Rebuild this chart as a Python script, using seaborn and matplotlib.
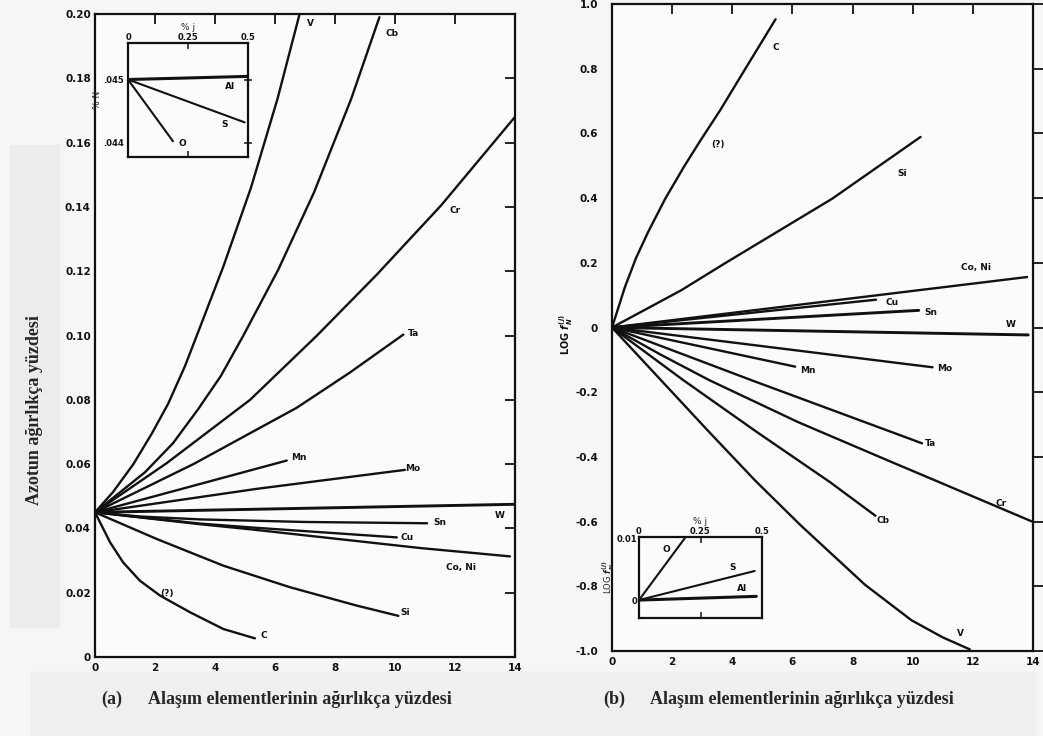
import matplotlib
matplotlib.use("Agg")
import matplotlib.pyplot as plt
import seaborn as sns
from matplotlib.patches import Rectangle

# ---------------- (a) nitrogen solubility: wt% N vs wt% alloying element ----------------
a_V_x = [0, 0.6, 1.28, 1.9, 2.44, 3.0, 3.39, 4.28, 5.2, 6.08, 6.82]
a_V_y = [0.045, 0.0513, 0.0600, 0.0696, 0.0788, 0.0905, 0.0999, 0.1215, 0.1460, 0.1735, 0.200]
a_Cb_x = [0, 1.67, 2.6, 3.44, 4.2, 4.94, 6.11, 7.3, 8.54, 9.48]
a_Cb_y = [0.045, 0.0575, 0.0665, 0.0771, 0.0875, 0.0999, 0.1205, 0.1445, 0.1736, 0.199]
a_Cr_x = [0, 2.39, 5.17, 7.39, 9.4, 11.54, 14.0]
a_Cr_y = [0.045, 0.0603, 0.0800, 0.0999, 0.1190, 0.1405, 0.168]
a_Ta_x = [0, 3.28, 6.72, 8.5, 10.28]
a_Ta_y = [0.045, 0.0600, 0.0775, 0.0885, 0.1003]
a_Mn_x = [0, 6.39]
a_Mn_y = [0.045, 0.0611]
a_Mo_x = [0, 5.39, 10.33]
a_Mo_y = [0.045, 0.0523, 0.0582]
a_W_x = [0, 14.0]
a_W_y = [0.045, 0.0475]
a_Sn_x = [0, 1.5, 3.5, 7.0, 11.07]
a_Sn_y = [0.045, 0.0437, 0.0428, 0.0420, 0.0416]
a_Cu_x = [0, 3.5, 5.2, 10.06]
a_Cu_y = [0.045, 0.0415, 0.0403, 0.0372]
a_CoNi_x = [0, 3.5, 5.2, 10.83, 13.83]
a_CoNi_y = [0.045, 0.0413, 0.0397, 0.0339, 0.0313]
a_Si_x = [0, 2.06, 4.28, 6.5, 8.72, 10.11]
a_Si_y = [0.045, 0.0367, 0.0284, 0.0217, 0.016, 0.0128]
a_C_x = [0, 0.28, 0.5, 0.94, 1.5, 2.17, 3.17, 4.28, 5.33]
a_C_y = [0.045, 0.0398, 0.0357, 0.0294, 0.0237, 0.0191, 0.0139, 0.0087, 0.0058]

# small-range inset of (a): O, S, Al
a_in_O_x, a_in_O_y = [0, 0.1875], [0.045, 0.04402]
a_in_S_x, a_in_S_y = [0, 0.486], [0.045, 0.04432]
a_in_Al_x, a_in_Al_y = [0, 0.5], [0.045, 0.04505]

# ---------------- (b) log f_N^(j) vs wt% alloying element ----------------
b_C_x = [0, 0.43, 0.8, 1.2, 1.77, 2.4, 2.94, 3.6, 4.37, 5.44]
b_C_y = [0, 0.125, 0.215, 0.295, 0.398, 0.498, 0.578, 0.672, 0.790, 0.953]
b_Si_x = [0, 2.3, 3.73, 7.32, 10.26]
b_Si_y = [0, 0.115, 0.197, 0.398, 0.589]
b_CoNi_x, b_CoNi_y = [0, 13.8], [0, 0.156]
b_Cu_x, b_Cu_y = [0, 8.78], [0, 0.086]
b_Sn_x, b_Sn_y = [0, 10.2], [0, 0.053]
b_W_x, b_W_y = [0, 13.84], [0, -0.023]
b_Mn_x, b_Mn_y = [0, 6.09], [0, -0.121]
b_Mo_x, b_Mo_y = [0, 10.66], [0, -0.123]
b_Ta_x = [0, 4.67, 10.31]
b_Ta_y = [0, -0.164, -0.358]
b_Cr_x = [0, 1.6, 3.24, 6.2, 9.15, 10.88, 14.0]
b_Cr_y = [0, -0.083, -0.163, -0.293, -0.410, -0.478, -0.601]
b_Cb_x = [0, 2.36, 4.8, 7.25, 8.76]
b_Cb_y = [0, -0.162, -0.322, -0.478, -0.582]
b_V_x = [0, 1.64, 3.2, 4.77, 6.28, 8.41, 9.96, 11.0, 11.9]
b_V_y = [0, -0.164, -0.320, -0.474, -0.612, -0.795, -0.905, -0.958, -0.995]

# inset of (b)
b_in_O_x, b_in_O_y = [0, 0.186], [0, 0.0100]
b_in_S_x, b_in_S_y = [0, 0.47], [0, 0.0047]
b_in_Al_x, b_in_Al_y = [0, 0.477], [0, 0.0006]

# curve labels: (text, x, y)
a_labels = [("V", 7.17, 0.197), ("Cb", 9.9, 0.194), ("Cr", 12.0, 0.139),
            ("Ta", 10.62, 0.1005), ("Mn", 6.8, 0.0621), ("Mo", 10.6, 0.0585),
            ("W", 13.5, 0.0440), ("Sn", 11.5, 0.0417), ("Cu", 10.4, 0.0372),
            ("Co, Ni", 12.2, 0.0279), ("Si", 10.35, 0.0139), ("C", 5.62, 0.0066),
            ("(?)", 2.4, 0.0196)]
b_labels = [("C", 5.45, 0.867), ("(?)", 3.53, 0.567), ("Si", 9.64, 0.477),
            ("Co, Ni", 12.1, 0.186), ("Cu", 9.3, 0.077), ("Sn", 10.6, 0.046),
            ("W", 13.27, 0.008), ("Mn", 6.5, -0.133), ("Mo", 11.06, -0.127),
            ("Ta", 10.6, -0.359), ("Cr", 12.94, -0.545), ("Cb", 9.0, -0.598),
            ("V", 11.6, -0.947)]

sns.set_theme(style="white")
plt.rcParams["font.family"] = ["DejaVu Sans"]
plt.rcParams["font.weight"] = "bold"
plt.rcParams["axes.linewidth"] = 1.6
plt.rcParams["axes.edgecolor"] = "#111111"

fig = plt.figure(figsize=(10.43, 7.36), dpi=100, facecolor="#f6f6f6")

# background panels behind the captions
fig.patches.append(Rectangle((10 / 1043, 1 - 627 / 736), 49 / 1043, 482 / 736,
                             transform=fig.transFigure, color="#ececec", zorder=-5))
fig.patches.append(Rectangle((31 / 1043, 0), 1004 / 1043, 64 / 736,
                             transform=fig.transFigure, color="#efefef", zorder=-5))

ink = "#111111"
lw = 1.7


def curve(ax, xs, ys, width=lw):
    sns.lineplot(x=xs, y=ys, ax=ax, color=ink, linewidth=width,
                 estimator=None, sort=False, legend=False)


def style_main(ax, yin=True):
    ax.set_facecolor("#fbfbfb")
    for s in ax.spines.values():
        s.set_linewidth(1.6)
        s.set_color(ink)
    ax.tick_params(axis="x", direction="in", length=7, width=1.3, top=True,
                   labelsize=7.5, pad=4, colors=ink)
    ax.tick_params(axis="y", direction="in" if yin else "out", length=7,
                   width=1.3, right=True, labelsize=7.5, pad=3, colors=ink)
    ax.set_xlabel("")
    ax.set_ylabel("")


# ---------------- panel (a) ----------------
ax_a = fig.add_axes([95 / 1043, 1 - 657 / 736, 420 / 1043, 643 / 736])
for xs, ys in [(a_V_x, a_V_y), (a_Cb_x, a_Cb_y), (a_Cr_x, a_Cr_y), (a_Ta_x, a_Ta_y),
               (a_Mn_x, a_Mn_y), (a_Mo_x, a_Mo_y), (a_Sn_x, a_Sn_y),
               (a_Cu_x, a_Cu_y), (a_CoNi_x, a_CoNi_y), (a_Si_x, a_Si_y), (a_C_x, a_C_y)]:
    curve(ax_a, xs, ys)
curve(ax_a, a_W_x, a_W_y, width=2.1)
ax_a.set_xlim(0, 14)
ax_a.set_ylim(0, 0.20)
ax_a.set_xticks(range(0, 15, 2))
yt = [i * 0.02 for i in range(11)]
ax_a.set_yticks(yt)
ax_a.set_yticklabels(["0"] + [f"{v:.2f}" for v in yt[1:]])
style_main(ax_a)
for t, x, y in a_labels:
    ax_a.text(x, y, t, fontsize=6.5, ha="center", va="center", color=ink)

# inset of (a)
ia = fig.add_axes([128 / 1043, 1 - 157 / 736, 120 / 1043, 114 / 736])
curve(ia, a_in_O_x, a_in_O_y, 1.5)
curve(ia, a_in_S_x, a_in_S_y, 1.5)
curve(ia, a_in_Al_x, a_in_Al_y, 2.2)
ia.set_xlim(0, 0.5)
ia.set_ylim(0.04377, 0.04558)
ia.set_facecolor("#fbfbfb")
for s in ia.spines.values():
    s.set_linewidth(1.6)
    s.set_color(ink)
ia.set_xticks([0, 0.25, 0.5])
ia.set_xticklabels(["0", "0.25", "0.5"])
ia.set_yticks([0.044, 0.045])
ia.set_yticklabels([".044", ".045"])
ia.tick_params(axis="x", direction="in", length=4, width=1.1, top=True, bottom=True,
               labeltop=True, labelbottom=False, labelsize=6, pad=1, colors=ink)
ia.tick_params(axis="y", direction="inout", length=6, width=1.1, right=True,
               labelsize=6, pad=0, colors=ink)
ia.xaxis.set_label_position("top")
ia.set_xlabel("% j", fontsize=6.5, labelpad=2)
ia.set_ylabel("% N", fontsize=6.5, labelpad=1)
for t, x, y in [("Al", 0.424, 0.04489), ("S", 0.403, 0.04429), ("O", 0.228, 0.04398)]:
    ia.text(x, y, t, fontsize=6.5, ha="center", va="center", color=ink)

# ---------------- panel (b) ----------------
ax_b = fig.add_axes([612 / 1043, 1 - 651 / 736, 421 / 1043, 647 / 736])
for xs, ys in [(b_C_x, b_C_y), (b_Si_x, b_Si_y), (b_CoNi_x, b_CoNi_y), (b_Cu_x, b_Cu_y),
               (b_Mn_x, b_Mn_y), (b_Mo_x, b_Mo_y), (b_Ta_x, b_Ta_y),
               (b_Cr_x, b_Cr_y), (b_Cb_x, b_Cb_y), (b_V_x, b_V_y)]:
    curve(ax_b, xs, ys)
curve(ax_b, b_Sn_x, b_Sn_y, width=2.1)
curve(ax_b, b_W_x, b_W_y, width=2.1)
ax_b.set_xlim(0, 14)
ax_b.set_ylim(-1.0, 1.0)
ax_b.set_xticks(range(0, 15, 2))
ybt = [round(-1.0 + 0.2 * i, 1) for i in range(11)]
ax_b.set_yticks(ybt)
ax_b.set_yticklabels([("0" if v == 0 else f"{v:.1f}") for v in ybt])
style_main(ax_b, yin=False)
for t, x, y in b_labels:
    ax_b.text(x, y, t, fontsize=6.5, ha="center", va="center", color=ink)

# inset of (b)
ib = fig.add_axes([639 / 1043, 1 - 618 / 736, 123 / 1043, 81 / 736])
curve(ib, b_in_O_x, b_in_O_y, 1.5)
curve(ib, b_in_S_x, b_in_S_y, 1.5)
curve(ib, b_in_Al_x, b_in_Al_y, 2.2)
ib.set_xlim(0, 0.5)
ib.set_ylim(-0.0029, 0.0102)
ib.set_facecolor("#fbfbfb")
for s in ib.spines.values():
    s.set_linewidth(1.6)
    s.set_color(ink)
ib.set_xticks([0, 0.25, 0.5])
ib.set_xticklabels(["0", "0.25", "0.5"])
ib.set_yticks([0, 0.01])
ib.set_yticklabels(["0", "0.01"])
ib.tick_params(axis="x", direction="in", length=4, width=1.1, top=True, bottom=True,
               labeltop=True, labelbottom=False, labelsize=6, pad=1, colors=ink)
ib.tick_params(axis="y", direction="in", length=0, labelsize=6, pad=1, colors=ink)
ib.xaxis.set_label_position("top")
ib.set_xlabel("% j", fontsize=6.5, labelpad=2)
ib.set_ylabel(r"LOG $f_N^{(j)}$", fontsize=6, labelpad=0)
for t, x, y in [("O", 0.113, 0.0081), ("S", 0.381, 0.0052), ("Al", 0.417, 0.0019)]:
    ib.text(x, y, t, fontsize=6.5, ha="center", va="center", color=ink)

# axis titles
fig.text(566 / 1043, 1 - 335 / 736, r"LOG $f_N^{(j)}$", rotation=90, fontsize=7,
         ha="center", va="center", color=ink)
serif = ["Liberation Serif", "DejaVu Serif"]
fig.text(35 / 1043, 1 - 410 / 736, "Azotun ağırlıkça yüzdesi", rotation=90,
         family=serif, fontweight="bold", fontsize=13, ha="center", va="center")
fig.text(112 / 1043, 1 - 699 / 736, "(a)", family=serif, fontweight="bold",
         fontsize=13, ha="center", va="center")
fig.text(148 / 1043, 1 - 699 / 736, "Alaşım elementlerinin ağırlıkça yüzdesi",
         family=serif, fontweight="bold", fontsize=13, ha="left", va="center")
fig.text(614 / 1043, 1 - 699 / 736, "(b)", family=serif, fontweight="bold",
         fontsize=13, ha="center", va="center")
fig.text(650 / 1043, 1 - 699 / 736, "Alaşım elementlerinin ağırlıkça yüzdesi",
         family=serif, fontweight="bold", fontsize=13, ha="left", va="center")

fig.savefig("out.png", dpi=100, facecolor=fig.get_facecolor())
